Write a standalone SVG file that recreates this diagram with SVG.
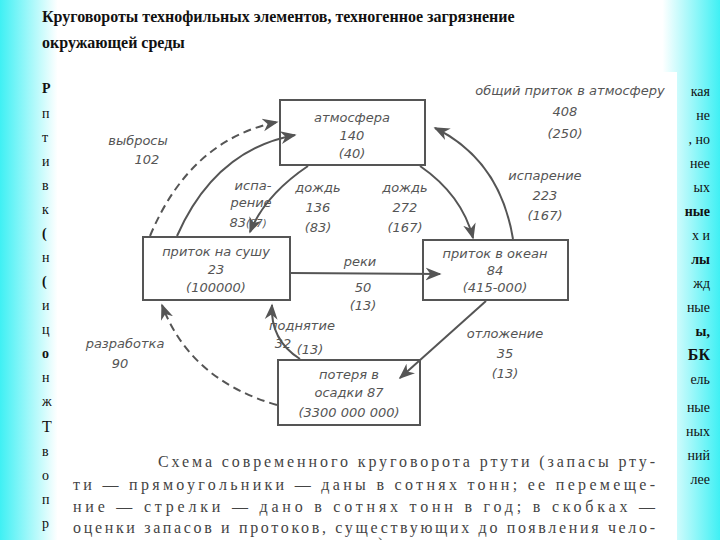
<svg xmlns="http://www.w3.org/2000/svg" width="720" height="540" viewBox="0 0 720 540">
<defs>
<linearGradient id="bg" x1="0" y1="0" x2="1" y2="0">
<stop offset="0" stop-color="#3ff0f4"/><stop offset="0.08" stop-color="#ffffff"/><stop offset="0.92" stop-color="#ffffff"/><stop offset="1" stop-color="#3ff0f4"/>
</linearGradient>
<marker id="ah" viewBox="0 0 10 10" refX="9" refY="5" markerWidth="8" markerHeight="8" orient="auto-start-reverse"><path d="M0,1 L10,5 L0,9 L3,5 Z" fill="#555"/></marker>
<style>
.t{font-family:"Liberation Serif",serif;fill:#111;font-size:14px}
.h{font-family:"Liberation Serif",serif;font-weight:bold;font-size:16px;fill:#111}
.d{font-family:"DejaVu Sans",sans-serif;font-style:italic;font-size:13px;fill:#555;text-anchor:middle}
.box{fill:#fff;stroke:#555;stroke-width:2}
.c{fill:none;stroke:#555;stroke-width:2}
.dash{stroke-dasharray:8 5}
.cap{font-family:"Liberation Serif",serif;font-size:16px;fill:#444}
</style>
</defs>
<rect width="720" height="540" fill="url(#bg)"/>
<text class="h" x="42" y="22">Круговороты технофильных элементов, техногенное загрязнение</text>
<text class="h" x="42" y="48">окружающей среды</text>
<g class="t">
<text x="42" y="93" font-weight="bold">Р</text><text x="42" y="118">п</text><text x="42" y="142">т</text><text x="42" y="166">и</text><text x="42" y="190">в</text><text x="42" y="214">к</text><text x="42" y="238" font-weight="bold">(</text><text x="42" y="262">н</text><text x="42" y="286" font-weight="bold">(</text><text x="42" y="310">и</text><text x="42" y="334">ц</text><text x="42" y="358" font-weight="bold">о</text><text x="42" y="382">н</text><text x="42" y="406">ж</text><text x="42" y="432" font-size="16">Т</text><text x="42" y="456">в</text><text x="42" y="480">о</text><text x="42" y="504">п</text><text x="42" y="528">р</text>
<g text-anchor="end">
<text x="710" y="96">кая</text><text x="710" y="120">не</text><text x="710" y="144">, но</text><text x="710" y="168">нее</text><text x="710" y="192">ых</text><text x="710" y="216" font-weight="bold">ные</text><text x="710" y="240">х и</text><text x="710" y="264" font-weight="bold">лы</text><text x="710" y="288">жд</text><text x="710" y="312">ные</text><text x="710" y="336" font-weight="bold">ы,</text><text x="710" y="360" font-weight="bold" font-size="16">БК</text><text x="710" y="384">ель</text>
<text x="710" y="412">ные</text><text x="710" y="436">ных</text><text x="710" y="460">ний</text><text x="710" y="484">лее</text>
</g>
</g>
<rect x="57" y="72" width="620" height="468" fill="#fff"/>
<g id="atm"><rect class="box" x="280" y="100" width="145" height="65"/><text class="d" x="352" y="122">атмосфера</text><text class="d" x="352" y="140">140</text><text class="d" x="352" y="158">(40)</text></g>
<g id="land"><rect class="box" x="143" y="237" width="147" height="63"/><text class="d" x="216" y="256">приток на сушу</text><text class="d" x="216" y="274">23</text><text class="d" x="216" y="292">(100000)</text></g>
<g id="ocean"><rect class="box" x="423" y="240" width="145" height="60"/><text class="d" x="495" y="258">приток в океан</text><text class="d" x="495" y="275">84</text><text class="d" x="495" y="292">(415-000)</text></g>
<g id="sed"><rect class="box" x="278" y="360" width="142" height="65"/><text class="d" x="349" y="379">потеря  в</text><text class="d" x="349" y="397">осадки 87</text><text class="d" x="349" y="417">(3300 000 000)</text></g>
<g id="connectors">
<path class="c dash" d="M150,236 Q190,140 277,122" marker-end="url(#ah)"/>
<path class="c" d="M177,236 Q215,150 295,135" marker-end="url(#ah)"/>
<path class="c" d="M308,166 Q265,195 250,232" marker-end="url(#ah)"/>
<path class="c" d="M420,166 Q462,195 473,238" marker-end="url(#ah)"/>
<path class="c" d="M513,239 Q500,160 435,128" marker-end="url(#ah)"/>
<path class="c" d="M291,273 L440,274" marker-end="url(#ah)"/>
<path class="c" d="M300,359 Q270,340 272,305" marker-end="url(#ah)"/>
<path class="c" d="M486,301 L400,378" marker-end="url(#ah)"/>
<path class="c dash" d="M277,405 Q190,380 162,305" marker-end="url(#ah)"/>
</g>
<g id="labels">
<text class="d" x="138" y="145">выбросы</text><text class="d" x="147" y="164">102</text>
<text class="d" x="570" y="95">общий приток в атмосферу</text><text class="d" x="565" y="116">408</text><text class="d" x="565" y="138">(250)</text>
<text class="d" x="253" y="190">испа-</text><text class="d" x="251" y="207">рение</text><text class="d" x="248" y="227">83<tspan font-size="10">(87)</tspan></text>
<text class="d" x="318" y="192">дождь</text><text class="d" x="318" y="212">136</text><text class="d" x="318" y="232">(83)</text>
<text class="d" x="405" y="192">дождь</text><text class="d" x="405" y="212">272</text><text class="d" x="405" y="232">(167)</text>
<text class="d" x="545" y="180">испарение</text><text class="d" x="545" y="200">223</text><text class="d" x="545" y="220">(167)</text>
<text class="d" x="360" y="266">реки</text><text class="d" x="363" y="292">50</text><text class="d" x="363" y="310">(13)</text>
<text class="d" x="302" y="330">поднятие</text><text class="d" x="283" y="348">32</text><text class="d" x="310" y="354">(13)</text>
<text class="d" x="505" y="338">отложение</text><text class="d" x="505" y="358">35</text><text class="d" x="505" y="378">(13)</text>
<text class="d" x="125" y="348">разработка</text><text class="d" x="120" y="368">90</text>
</g>
<g id="caption">
<text class="cap" x="158" y="467" textLength="497">Схема современного круговорота ртути (запасы рту-</text>
<text class="cap" x="73" y="490" textLength="582">ти — прямоугольники — даны в сотнях тонн; ее перемеще-</text>
<text class="cap" x="73" y="512" textLength="582">ние — стрелки — дано в сотнях тонн в год; в скобках —</text>
<text class="cap" x="73" y="533" textLength="582">оценки запасов и протоков, существующих до появления чело-</text>
<text class="cap" x="349" y="549">века)</text>
</g>
</svg>
